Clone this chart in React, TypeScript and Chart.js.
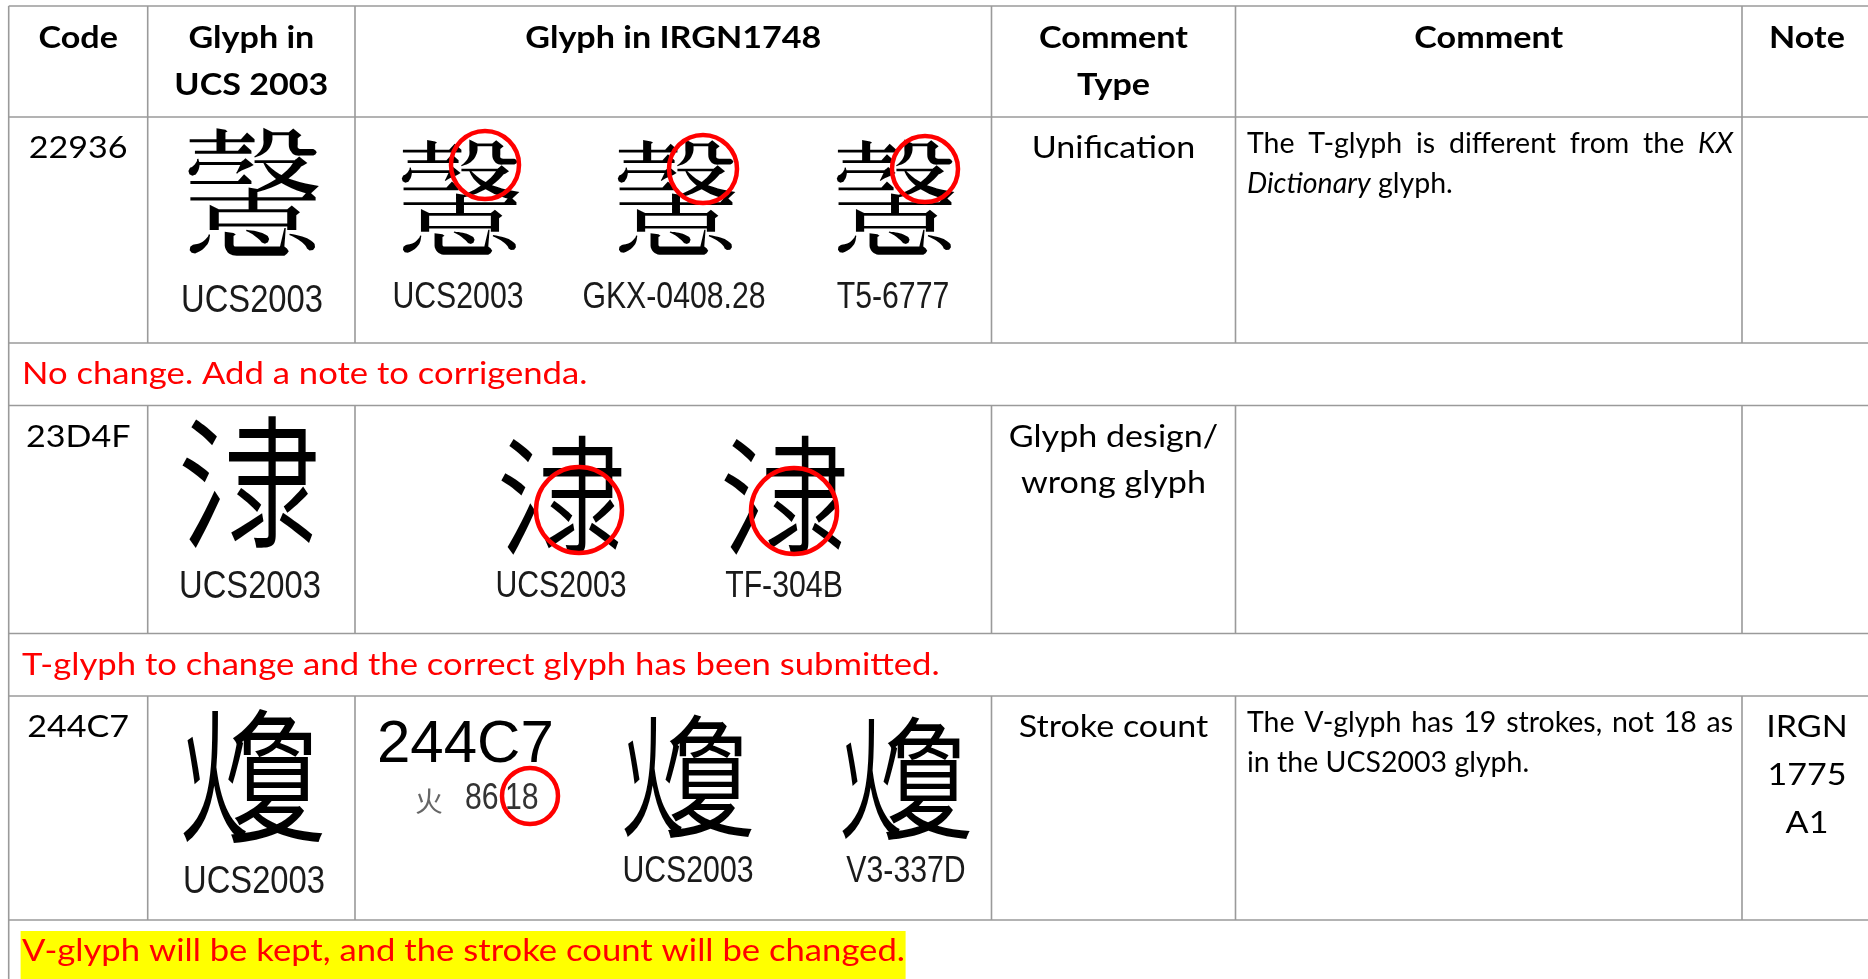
import React, { useEffect, useRef } from "react";
import { Chart, registerables } from "chart.js";

Chart.register(...registerables);

const W = 1868;
const H = 979;

// ---------- content ----------
type Seg = { t: string; i?: boolean };

const headers: string[][] = [
  ["Code"],
  ["Glyph in", "UCS 2003"],
  ["Glyph in IRGN1748"],
  ["Comment", "Type"],
  ["Comment"],
  ["Note"],
];
const codes = ["22936", "23D4F", "244C7"];
const glyphs = ["\u{22936}", "\u{23D4F}", "\u{244C7}"];
// ideographic description of each glyph (left + right components), used only if no installed font has the character
const glyphParts: Record<string, [string, string]> = {
  "\u{22936}": ["壴", "殳"],
  "\u{23D4F}": ["氵", "隶"],
  "\u{244C7}": ["火", "夐"],
};
const ucsLabel = "UCS2003";
const irgLabels: string[][] = [
  ["UCS2003", "GKX-0408.28", "T5-6777"],
  ["UCS2003", "TF-304B"],
  ["UCS2003", "V3-337D"],
];
const strokeIndex = { code: "244C7", radical: "火", radicalNo: "86", strokes: "18" };
const commentTypes: string[][] = [["Unification"], ["Glyph design/", "wrong glyph"], ["Stroke count"]];
const comments: Seg[][][] = [
  [
    [{ t: "The T-glyph is different from the " }, { t: "KX", i: true }],
    [{ t: "Dictionary", i: true }, { t: " glyph." }],
  ],
  [],
  [[{ t: "The V-glyph has 19 strokes, not 18 as" }], [{ t: "in the UCS2003 glyph." }]],
];
const notes: string[][] = [[], [], ["IRGN", "1775", "A1"]];
const decisions = [
  "No change. Add a note to corrigenda.",
  "T-glyph to change and the correct glyph has been submitted.",
  "V-glyph will be kept, and the stroke count will be changed.",
];
const highlighted = [false, false, true];

// ---------- layout (table units = pixels) ----------
const colX = [8.7, 147.7, 355, 991.5, 1235.5, 1742, 1872];
const rowY = [6, 117, 343, 405.5, 633.5, 696, 920, 1000];
const dataRowTop = [117, 405.5, 696];
const decisionTop = [343, 633.5, 920];

const BODY = "Lato, 'Open Sans', sans-serif";
const BODY_SX = 1.1;
const NARROW = "'Liberation Sans', Arial, sans-serif";
const CJK = "'Noto Sans CJK TC', 'Noto Sans CJK SC', 'Noto Sans CJK JP', 'Noto Sans CJK KR', sans-serif";

// placement of the two components (offset in em, horizontal squeeze) for the fallback drawing
const partLayout: Record<string, { l: [number, number]; r: [number, number] }> = {
  "\u{22936}": { l: [-0.26, 0.5], r: [0.2, 0.55] },
  "\u{23D4F}": { l: [-0.15, 0.72], r: [0.15, 0.68] },
  "\u{244C7}": { l: [-0.28, 0.48], r: [0.15, 0.68] },
};

const mainGlyph = [
  { x: 253, y: 193, size: 142, label: 312 },
  { x: 251, y: 482, size: 142, label: 598 },
  { x: 255, y: 776, size: 144, label: 893 },
];
const irgGlyph = [
  [
    { x: 460, y: 198, size: 128, label: 308 },
    { x: 676, y: 198, size: 128, label: 308 },
    { x: 895, y: 198, size: 128, label: 308 },
  ],
  [
    { x: 563, y: 495, size: 128, label: 597 },
    { x: 786, y: 495, size: 128, label: 597 },
  ],
  [
    { x: 690, y: 776, size: 132, label: 882 },
    { x: 908, y: 778, size: 132, label: 882 },
  ],
];

const circles = [
  { x: 485, y: 165, r: 34 },
  { x: 703, y: 169, r: 34 },
  { x: 925, y: 169, r: 33 },
  { x: 579, y: 510, r: 43 },
  { x: 794, y: 511, r: 43 },
  { x: 530, y: 796, r: 28 },
];

const glyphCache: Record<string, boolean> = {};
function hasGlyph(ch: string): boolean {
  if (ch in glyphCache) return glyphCache[ch];
  const c = document.createElement("canvas");
  c.width = 64;
  c.height = 64;
  const g = c.getContext("2d")!;
  const draw = (s: string) => {
    g.clearRect(0, 0, 64, 64);
    g.font = `48px ${CJK}`;
    g.textBaseline = "middle";
    g.textAlign = "center";
    g.fillStyle = "#000";
    g.fillText(s, 32, 32);
    return g.getImageData(0, 0, 64, 64).data;
  };
  const a = draw(ch);
  const b = draw("\u{2FFFD}");
  let same = true;
  for (let i = 3; i < a.length; i += 4) {
    if (a[i] !== b[i]) {
      same = false;
      break;
    }
  }
  glyphCache[ch] = !same;
  return !same;
}

function drawGlyph(ctx: CanvasRenderingContext2D, ch: string, x: number, y: number, size: number) {
  ctx.save();
  ctx.fillStyle = "#000";
  ctx.textAlign = "center";
  ctx.textBaseline = "middle";
  ctx.font = `${size}px ${CJK}`;
  if (hasGlyph(ch) || !glyphParts[ch]) {
    ctx.fillText(ch, x, y);
  } else {
    const [l, r] = glyphParts[ch];
    const pl = partLayout[ch];
    ctx.save();
    ctx.translate(x + size * pl.l[0], y);
    ctx.scale(pl.l[1], 1);
    ctx.fillText(l, 0, 0);
    ctx.restore();
    ctx.save();
    ctx.translate(x + size * pl.r[0], y);
    ctx.scale(pl.r[1], 1);
    ctx.fillText(r, 0, 0);
    ctx.restore();
  }
  ctx.restore();
}

function narrowText(ctx: CanvasRenderingContext2D, text: string, cx: number, y: number, size: number, sx: number, color: string, align: CanvasTextAlign = "center") {
  ctx.save();
  ctx.translate(cx, y);
  ctx.scale(sx, 1);
  ctx.font = `${size}px ${NARROW}`;
  ctx.fillStyle = color;
  ctx.textAlign = align;
  ctx.textBaseline = "alphabetic";
  ctx.fillText(text, 0, 0);
  ctx.restore();
}

function bodyText(ctx: CanvasRenderingContext2D, text: string, x: number, y: number, font: string, color: string, align: CanvasTextAlign, sxf = BODY_SX) {
  ctx.save();
  ctx.translate(x, y);
  ctx.scale(sxf, 1);
  ctx.font = font;
  ctx.fillStyle = color;
  ctx.textAlign = align;
  ctx.textBaseline = "alphabetic";
  ctx.fillText(text, 0, 0);
  ctx.restore();
}

const COMMENT_SX = 1.0;
function richLine(ctx: CanvasRenderingContext2D, segs: Seg[], x: number, y: number, size: number, justify: number | null) {
  const words: { t: string; i: boolean }[] = [];
  segs.forEach((s) => s.t.split(" ").filter((w) => w.length).forEach((w) => words.push({ t: w, i: !!s.i })));
  const fontOf = (i: boolean) => `${i ? "italic " : ""}${size}px ${BODY}`;
  const widths = words.map((w) => {
    ctx.font = fontOf(w.i);
    return ctx.measureText(w.t).width * COMMENT_SX;
  });
  ctx.font = fontOf(false);
  let gap = ctx.measureText(" ").width * COMMENT_SX;
  if (justify !== null && words.length > 1) {
    gap = Math.max(gap * 0.6, (justify - widths.reduce((a, b) => a + b, 0)) / (words.length - 1));
  }
  let cx = x;
  words.forEach((w, k) => {
    bodyText(ctx, w.t, cx, y, fontOf(w.i), "#000", "left", COMMENT_SX);
    cx += widths[k] + gap;
  });
}

const tablePlugin = {
  id: "tableCells",
  beforeDatasetsDraw(chart: any) {
    const { ctx } = chart;
    const sx = chart.scales.x;
    const sy = chart.scales.y;
    const px = (v: number) => sx.getPixelForValue(v);
    const py = (v: number) => sy.getPixelForValue(v);
    const cc = (c: number) => (px(colX[c]) + px(colX[c + 1])) / 2;

    ctx.save();
    ctx.fillStyle = "#ffffff";
    ctx.fillRect(0, 0, W, H);

    const DEC_FONT = `31.5px ${BODY}`;

    decisions.forEach((d, r) => {
      if (!highlighted[r]) return;
      ctx.font = DEC_FONT;
      const w = ctx.measureText(d).width * BODY_SX;
      ctx.fillStyle = "#ffff00";
      ctx.fillRect(px(20.6), py(decisionTop[r] + 11), w + 2, py(decisionTop[r] + 70) - py(decisionTop[r] + 11));
    });

    // grid
    ctx.strokeStyle = "#9a9a9a";
    ctx.lineWidth = 1.6;
    ctx.beginPath();
    rowY.slice(0, -1).forEach((y) => {
      ctx.moveTo(px(colX[0]), py(y));
      ctx.lineTo(px(colX[colX.length - 1]), py(y));
    });
    ctx.moveTo(px(colX[0]), py(rowY[0]));
    ctx.lineTo(px(colX[0]), py(rowY[rowY.length - 1]));
    const spans = [[rowY[0], rowY[1]], ...dataRowTop.map((t, r) => [t, decisionTop[r]])];
    spans.forEach(([a, b]) => {
      for (let c = 1; c < colX.length - 1; c++) {
        ctx.moveTo(px(colX[c]), py(a));
        ctx.lineTo(px(colX[c]), py(b));
      }
    });
    ctx.stroke();

    // headers
    headers.forEach((lines, c) => {
      lines.forEach((t, k) => bodyText(ctx, t, cc(c), py(48 + k * 47), `bold 31px ${BODY}`, "#000", "center"));
    });

    // data rows
    codes.forEach((code, r) => {
      const top = dataRowTop[r];
      const F = `31px ${BODY}`;
      bodyText(ctx, code, cc(0), py(top + 41), F, "#000", "center");
      commentTypes[r].forEach((t, k) => bodyText(ctx, t, cc(3), py(top + 41 + k * 46), F, "#000", "center"));
      notes[r].forEach((t, k) => bodyText(ctx, t, cc(5), py(top + 41 + k * 48), F, "#000", "center"));

      comments[r].forEach((segs, k) => {
        const just = k < comments[r].length - 1 ? px(1733) - px(1247) : null;
        richLine(ctx, segs, px(1247), py(top + 36 + k * 40), 28.5, just);
      });

      const g = mainGlyph[r];
      drawGlyph(ctx, glyphs[r], px(g.x), py(g.y), g.size);
      narrowText(ctx, ucsLabel, px(g.x - 1), py(g.label), 39, 0.84, "#1a1a1a");

      irgGlyph[r].forEach((ig, k) => {
        drawGlyph(ctx, glyphs[r], px(ig.x), py(ig.y), ig.size);
        narrowText(ctx, irgLabels[r][k], px(ig.x - 2), py(ig.label), 36, 0.84, "#1a1a1a");
      });
    });

    // stroke-index entry (row 3)
    ctx.textAlign = "left";
    ctx.textBaseline = "alphabetic";
    ctx.fillStyle = "#000";
    ctx.font = `60px ${NARROW}`;
    ctx.fillText(strokeIndex.code, px(377), py(762));
    ctx.fillStyle = "#666";
    ctx.font = `28px ${CJK}`;
    ctx.textAlign = "center";
    ctx.fillText(strokeIndex.radical, px(429), py(812));
    narrowText(ctx, strokeIndex.radicalNo, px(465), py(809), 36, 0.84, "#333", "left");
    narrowText(ctx, strokeIndex.strokes, px(505), py(809), 36, 0.84, "#333", "left");

    // decisions
    decisions.forEach((d, r) => bodyText(ctx, d, px(22), py(decisionTop[r] + 41), DEC_FONT, "#ff0000", "left"));

    ctx.restore();
  },
};

export default function App() {
  const ref = useRef<HTMLCanvasElement | null>(null);
  useEffect(() => {
    document.body.style.margin = "0";
    const canvas = ref.current!;
    const chart = new Chart(canvas, {
      type: "scatter",
      data: {
        datasets: [
          {
            data: circles.map((c) => ({ x: c.x, y: c.y })),
            pointRadius: circles.map((c) => c.r),
            pointHoverRadius: circles.map((c) => c.r),
            pointBorderColor: "#ff0000",
            pointBorderWidth: 4.5,
            pointBackgroundColor: "rgba(0,0,0,0)",
            clip: false,
          } as any,
        ],
      },
      options: {
        animation: false,
        responsive: false,
        maintainAspectRatio: false,
        events: [],
        layout: { padding: 0, autoPadding: false },
        plugins: { legend: { display: false }, tooltip: { enabled: false } },
        scales: {
          x: { type: "linear", min: 0, max: W, display: false },
          y: { type: "linear", min: 0, max: H, reverse: true, display: false },
        },
      },
      plugins: [tablePlugin],
    });
    return () => chart.destroy();
  }, []);
  return <canvas ref={ref} width={W} height={H} style={{ display: "block", width: W, height: H }} />;
}
